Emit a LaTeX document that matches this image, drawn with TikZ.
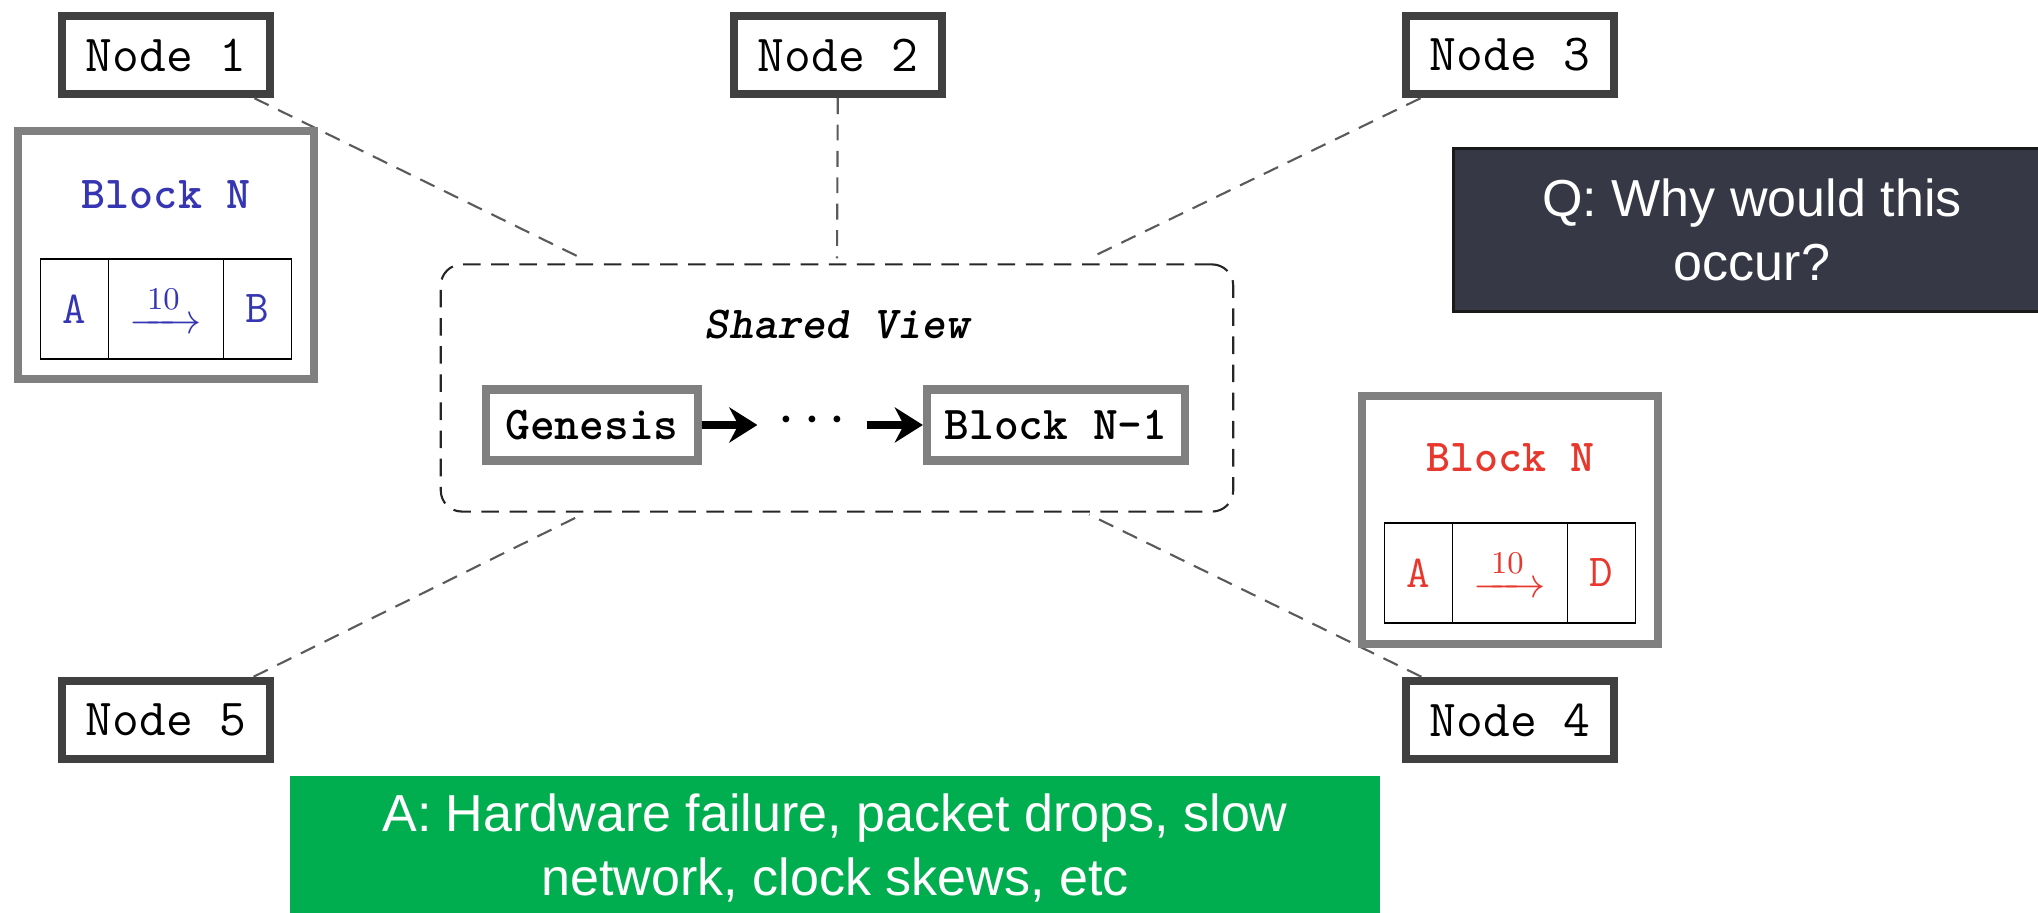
\documentclass[tikz,border=0pt]{standalone}
\usepackage{amsmath}
\usepackage{fontspec}
\newfontfamily\notefont{Liberation Sans}
\usepackage{xcolor}
\definecolor{peergray}{HTML}{404040}
\definecolor{blkgray}{HTML}{808080}
\definecolor{linkgray}{HTML}{5A5A5A}
\definecolor{okblue}{HTML}{3636B2}
\definecolor{badred}{HTML}{E8382D}
\definecolor{qslate}{HTML}{363845}
\definecolor{agreen}{HTML}{00AE4F}
\usepackage{tikz}
\usetikzlibrary{arrows.meta,positioning}

\begin{document}
\begin{tikzpicture}[
  x=0.01cm, y=-0.01cm,
  peer/.style={draw=peergray, line width=2.4pt, fill=white,
               minimum width=2.08cm, minimum height=0.78cm,
               font=\fontsize{14.8}{17}\selectfont\ttfamily},
  viewbox/.style={draw=black!85, line width=0.6pt, rounded corners=6pt,
                  dash pattern=on 5pt off 3pt,
                  minimum width=7.92cm, minimum height=2.47cm},
  blk/.style={draw=blkgray, line width=2.3pt, fill=white,
              minimum height=0.71cm,
              font=\fontsize{13.4}{15}\selectfont\ttfamily\bfseries},
  blkframe/.style={draw=blkgray, line width=2.3pt, fill=white,
                   minimum width=2.96cm, minimum height=2.47cm},
  blktitle/.style={font=\fontsize{13}{15}\selectfont\ttfamily\bfseries},
  cell/.style={draw=black, line width=0.5pt, outer sep=0pt,
               minimum width=0.68cm, minimum height=1cm,
               font=\fontsize{13}{15}\selectfont\ttfamily},
  link/.style={draw=linkgray, line width=0.6pt, dash pattern=on 4.5pt off 3pt},
  chain/.style={-{Stealth[length=8pt,width=10pt]}, line width=2.5pt},
  note/.style={text=white, align=center,
               font=\fontsize{14.8}{18}\selectfont\notefont}
]
  \useasboundingbox (0,0) rectangle (2038,913);

  % the five peers
  \node[peer] (n1) at (166,55) {Node 1};
  \node[peer] (n2) at (838,55) {Node 2};
  \node[peer] (n3) at (1510,55) {Node 3};
  \node[peer] (n4) at (1510,720) {Node 4};
  \node[peer] (n5) at (166,720) {Node 5};

  % common chain
  \node[viewbox] (view) at (837,388) {};
  \node[font=\fontsize{13}{15}\selectfont\ttfamily\bfseries\itshape]
    (viewname) at ([yshift=0.63cm]view.center) {Shared View};
  \node[inner xsep=4.5pt, outer sep=0pt,
        font=\fontsize{14}{15}\selectfont\ttfamily\bfseries]
    (gap) at (812,425) {\raisebox{-1.6pt}{···}};
  \node[blk, minimum width=2.11cm] (gen) at (592,425) {Genesis};
  \node[blk, minimum width=2.58cm] (prev) at (1056,425) {Block N-1};
  \draw[chain] (gen) -- (gap);
  \draw[chain] (gap) -- (prev);

  \coordinate (vnw) at ([xshift=-2.55cm,yshift=0.05cm]view.north);
  \coordinate (vn)  at ([yshift=0.05cm]view.north);
  \coordinate (vne) at ([xshift=2.52cm,yshift=0.05cm]view.north);
  \coordinate (vse) at ([xshift=2.52cm,yshift=-0.02cm]view.south);
  \coordinate (vsw) at ([xshift=-2.55cm,yshift=-0.02cm]view.south);
  \draw[link] (n1) -- (vnw);
  \draw[link] (n2) -- (vn);
  \draw[link] (n3) -- (vne);
  \draw[link] (n4) -- (vse);
  \draw[link] (n5) -- (vsw);

  % block seen by node 1
  \node[blkframe] (goodblk) at (166,255) {};
  \node[blktitle, text=okblue] (goodname) at ([yshift=0.6cm]goodblk.center) {Block N};
  \node[cell, minimum width=1.15cm, text=okblue] (goodamt)
    at ([yshift=-0.54cm]goodblk.center) {$\xrightarrow{\:10\:}$};
  \node[cell, text=okblue, left=0pt of goodamt] (goodfrom) {A};
  \node[cell, text=okblue, right=0pt of goodamt] (goodto) {B};

  % block seen by node 4
  \node[blkframe] (badblk) at (1510,520) {};
  \node[blktitle, text=badred] (badname) at ([yshift=0.62cm]badblk.center) {Block N};
  \node[cell, minimum width=1.15cm, text=badred] (badamt)
    at ([yshift=-0.53cm]badblk.center) {$\xrightarrow{\:10\:}$};
  \node[cell, text=badred, left=0pt of badamt] (badfrom) {A};
  \node[cell, text=badred, right=0pt of badamt] (badto) {D};

  % question and answer
  \node[note, fill=qslate, draw=black!90, line width=0.9pt,
        minimum width=5.96cm, minimum height=1.63cm] (quest) at (1752,230)
    {Q: Why would this\\occur?};
  \node[note, fill=agreen, minimum width=10.89cm, minimum height=1.44cm]
    (answer) at (835,848)
    {A: Hardware failure, packet drops, slow\\network, clock skews, etc};
\end{tikzpicture}
\end{document}
